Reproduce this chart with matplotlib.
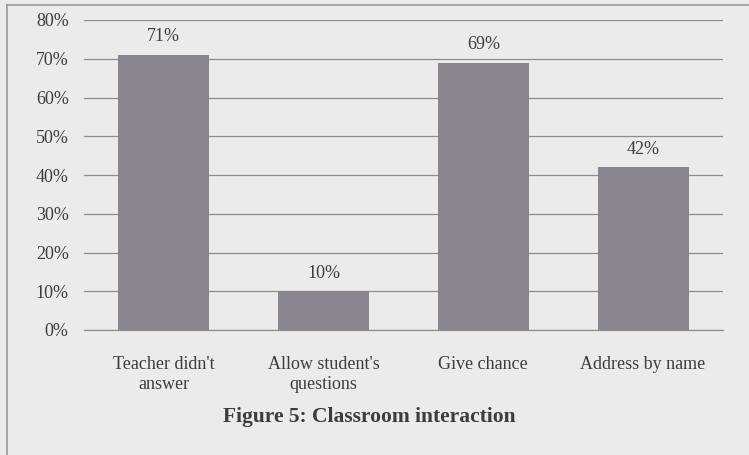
import numpy as np
import matplotlib.pyplot as plt
from matplotlib.lines import Line2D

categories = ["Teacher didn't\nanswer", "Allow student's\nquestions", "Give chance", "Address by name"]
values = [71, 10, 69, 42]
yticks = [0, 10, 20, 30, 40, 50, 60, 70, 80]

BG = "#ebebec"
BAR = "#88858e"
TEXT = "#3c3c3c"
GRID = "#8c8c8c"

plt.rcParams["font.family"] = ["Liberation Serif", "DejaVu Serif"]

W, H = 749, 455
fig = plt.figure(figsize=(W / 100, H / 100), dpi=100)
fig.patch.set_facecolor(BG)
ax = fig.add_axes([84 / W, 1 - 330 / H, 639 / W, 310 / H])
ax.set_facecolor(BG)

x = np.arange(len(categories))
ax.bar(x, values, width=0.57, color=BAR, zorder=3)
for xi, v in zip(x, values):
    ax.annotate(f"{v}%", (xi, v), xytext=(0, 13), textcoords="offset points",
                ha="center", va="center", fontsize=13, color=TEXT)

ax.set_xlim(-0.5, len(categories) - 0.5)
ax.set_ylim(0, 80)
ax.set_yticks(yticks)
ax.set_yticklabels([f"{t}%" for t in yticks], fontsize=13, color=TEXT)
ax.set_xticks(x)
ax.set_xticklabels(categories, fontsize=13, color=TEXT, linespacing=1.2)
ax.tick_params(axis="both", length=0)
ax.tick_params(axis="y", pad=11)
ax.tick_params(axis="x", pad=19)
ax.yaxis.grid(True, color=GRID, linewidth=0.9, zorder=0)
for s in ["top", "right", "left"]:
    ax.spines[s].set_visible(False)
ax.spines["bottom"].set_color(GRID)
ax.spines["bottom"].set_linewidth(0.9)

fig.text(369 / W, 1 - 417 / H, "Figure 5: Classroom interaction",
         ha="center", va="center", fontsize=15.5, fontweight="bold", color=TEXT)

# scan frame: only top and left edges are visible
fig.add_artist(Line2D([7 / W, 1], [1 - 5 / H, 1 - 5 / H], transform=fig.transFigure,
                      color="#9a9a9a", linewidth=1.2))
fig.add_artist(Line2D([7 / W, 7 / W], [0, 1 - 5 / H], transform=fig.transFigure,
                      color="#9a9a9a", linewidth=1.2))

fig.savefig("out.png", dpi=100, facecolor=BG)
